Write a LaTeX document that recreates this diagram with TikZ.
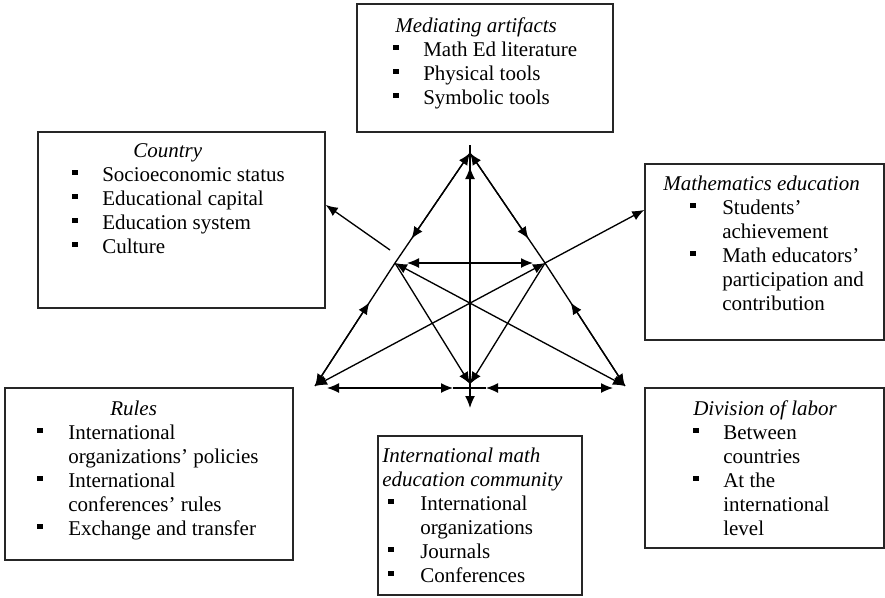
\documentclass[tikz,border=0pt]{standalone}
\usepackage{fontspec}
\setmainfont{Liberation Serif}
\usetikzlibrary{arrows.meta,calc,fit,intersections}
\newcommand{\bulsq}{\rule[4.6pt]{4.2pt}{3.8pt}}
\begin{document}
\begin{tikzpicture}[x=0.75pt,y=-0.75pt,
  font=\fontsize{15.75pt}{18pt}\selectfont,
  box/.style={draw=black!85, line width=1.1pt, inner sep=0pt},
  txt/.style={anchor=base west, inner sep=0pt},
  ln/.style={line width=1pt},
  arw/.style={line width=1pt, -{Latex[length=9pt,width=7.5pt]}},
  darw/.style={line width=1pt, {Latex[length=9pt,width=7.5pt]}-{Latex[length=9pt,width=7.5pt]}}]
\useasboundingbox (0,0) rectangle (885,597);

% boxes
\node[box, fit={(357,4)(613,132)}] (med) {};
\node[box, fit={(38,132)(325,308)}] (country) {};
\node[box, fit={(645,164)(884,340)}] (mathed) {};
\node[box, fit={(5,388)(293,560)}] (rules) {};
\node[box, fit={(378,436)(582,595)}] (community) {};
\node[box, fit={(645,388)(884,548)}] (division) {};

% texts
\node[txt] (medtxt) at (393,32) {\begin{tabular}[t]{@{}p{22.5pt}@{}l@{}}
\multicolumn{2}{@{}l@{}}{\hspace*{1.5pt}\itshape Mediating artifacts}\\
\bulsq & Math Ed literature\\
\bulsq & Physical tools\\
\bulsq & Symbolic tools
\end{tabular}};

\node[txt] (countrytxt) at (72,157) {\begin{tabular}[t]{@{}p{22.5pt}@{}l@{}}
\multicolumn{2}{@{}l@{}}{\hspace*{45.75pt}\itshape Country}\\
\bulsq & Socioeconomic status\\
\bulsq & Educational capital\\
\bulsq & Education system\\
\bulsq & Culture
\end{tabular}};

\node[txt] (mathedtxt) at (663,190) {\begin{tabular}[t]{@{}p{44.25pt}@{}l@{}}
\multicolumn{2}{@{}l@{}}{\itshape Mathematics education}\\
\hspace*{20.25pt}\bulsq & Students'\\
 & achievement\\
\hspace*{20.25pt}\bulsq & Math educators'\\
 & participation and\\
 & contribution
\end{tabular}};

\node[txt] (rulestxt) at (37,415) {\begin{tabular}[t]{@{}p{23.25pt}@{}l@{}}
\multicolumn{2}{@{}l@{}}{\hspace*{54.75pt}\itshape Rules}\\
\bulsq & International\\
 & organizations' policies\\
\bulsq & International\\
 & conferences' rules\\
\bulsq & Exchange and transfer
\end{tabular}};

\node[txt] (communitytxt) at (382,462) {\begin{tabular}[t]{@{}p{28.5pt}@{}l@{}}
\multicolumn{2}{@{}l@{}}{\itshape International math}\\
\multicolumn{2}{@{}l@{}}{\itshape education community}\\
\hspace*{4.5pt}\bulsq & International\\
 & organizations\\
\hspace*{4.5pt}\bulsq & Journals\\
\hspace*{4.5pt}\bulsq & Conferences
\end{tabular}};

\node[txt] (divisiontxt) at (693,415) {\begin{tabular}[t]{@{}p{22.5pt}@{}l@{}}
\multicolumn{2}{@{}l@{}}{\itshape Division of labor}\\
\bulsq & Between\\
 & countries\\
\bulsq & At the\\
 & international\\
 & level
\end{tabular}};

% triangle points
\coordinate (T) at (470,153);
\coordinate (L) at (395,263);
\coordinate (R) at (545,263);
\coordinate (BL) at (315,386);
\coordinate (BC) at (470,384);
\coordinate (BR) at (625,386);
\coordinate (Vtop) at (470,145);
\coordinate (Vhd) at (470,167);
\coordinate (Bdown) at (470,408);
\coordinate (Lc) at (390,250);
\coordinate (H1) at (327,388);
\coordinate (H2) at (453,388);
\coordinate (H3) at (486,388);
\coordinate (H4) at (613,388);

% upper sides
\draw[arw] (L) -- (T);
\draw[arw] (R) -- (T);
\draw[arw] (T) -- ($(T)!0.78!(L)$);
\draw[arw] (T) -- ($(T)!0.78!(R)$);
\draw[darw] ($(L)!0.08!(R)$) -- ($(R)!0.08!(L)$);
% lower sides
\draw[arw] (L) -- (BL);
\draw[arw] (BL) -- ($(BL)!0.68!(L)$);
\draw[arw] (R) -- (BR);
\draw[arw] (BR) -- ($(BR)!0.68!(R)$);
% vertical
\draw[ln] (Vtop) -- (BC);
\draw[arw] (BC) -- (Vhd);
\draw[arw] (BC) -- (Bdown);
% base
\draw[darw] (H1) -- (H2);
\draw[darw] (H3) -- (H4);
\draw[ln] (H2) -- (H3);
% diagonals
\draw[darw] (L) -- (BR);
\draw[darw] (BL) -- (R);
\draw[arw] (L) -- (BC);
\draw[arw] (R) -- (BC);
\path[name path=diag] (BL) -- ($(BL)!1.6!(R)$);
\path[name path=medge] (mathed.north west) -- (mathed.south west);
\path[name intersections={of=diag and medge, by={Mi}}];
\draw[arw] (R) -- (Mi);
\draw[arw] (Lc) -- ($(country.north east)!0.415!(country.south east)$);
\end{tikzpicture}
\end{document}
